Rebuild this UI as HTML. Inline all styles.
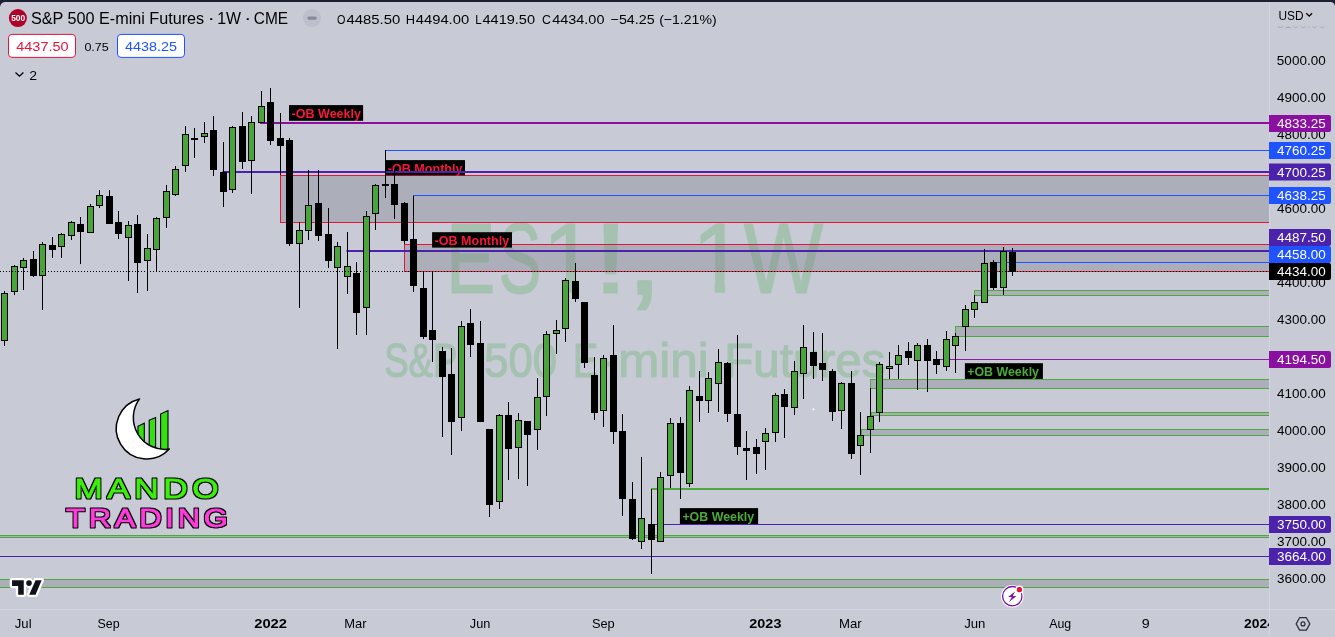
<!DOCTYPE html>
<html><head><meta charset="utf-8"><title>S&amp;P 500 E-mini Futures</title>
<style>html,body{margin:0;padding:0;background:#c8cad6;overflow:hidden}svg{display:block}</style>
</head><body>
<svg width="1335" height="637" viewBox="0 0 1335 637" font-family="'Liberation Sans', sans-serif">
<rect width="1335" height="637" fill="#1c2030"/>
<rect x="0" y="2" width="1335" height="647" rx="5" fill="#c8cad6"/>
<clipPath id="pane"><rect x="0" y="2" width="1269" height="607"/></clipPath>
<g clip-path="url(#pane)">
<g opacity="0.28" stroke="#4caf50" stroke-width="1.2" stroke-linejoin="round">
<text transform="translate(445.95,292.5) scale(0.7425,1)" font-size="99.4" fill="#4caf50">E</text><text transform="translate(498.59,292.5) scale(0.6448,1)" font-size="99.4" fill="#4caf50">S</text><clipPath id="c1a"><rect x="548.7" y="200" width="28.899999999999977" height="84.07"/><rect x="565.29" y="200" width="10.31" height="92.50"/></clipPath><g clip-path="url(#c1a)"><text transform="translate(542.66,292.5) scale(0.9455,1)" font-size="99.4" fill="#4caf50">1</text></g><text transform="translate(591.95,292.5) scale(1.3528,1)" font-size="99.4" fill="#4caf50">!</text><text transform="translate(625.24,293.64) scale(1.3838,1.2079)" font-size="99.4" fill="#4caf50">,</text><clipPath id="c1b"><rect x="698.1" y="200" width="29.0" height="84.07"/><rect x="714.76" y="200" width="10.34" height="92.50"/></clipPath><g clip-path="url(#c1b)"><text transform="translate(692.02,292.5) scale(0.9497,1)" font-size="99.4" fill="#4caf50"> 1</text></g><text transform="translate(743.83,292.5) scale(0.8480,1)" font-size="99.4" fill="#4caf50">W</text>
<text transform="translate(384.14,377) scale(0.7700,1)" font-size="47.5" fill="#4caf50">S&amp;P</text><text transform="translate(484.25,377) scale(0.9179,1)" font-size="47.5" fill="#4caf50"> 500</text><text transform="translate(572.91,377) scale(0.7924,1)" font-size="47.5" fill="#4caf50"> E</text><text transform="translate(599.32,377) scale(1.0348,1)" font-size="47.5" fill="#4caf50">-</text><text transform="translate(618.22,377) scale(1.0392,1)" font-size="47.5" fill="#4caf50">mini</text><text transform="translate(724.30,377) scale(1.0012,1)" font-size="47.5" fill="#4caf50"> Futures</text>
</g>
<rect x="280.5" y="175.5" width="1119.5" height="47.00" fill="rgba(120,123,134,0.35)" stroke="#e5143a" stroke-width="1"/>
<rect x="404.5" y="244.5" width="995.5" height="27.00" fill="rgba(120,123,134,0.35)" stroke="#e5143a" stroke-width="1"/>
<rect x="974.5" y="290.5" width="425.5" height="5.00" fill="rgba(120,123,134,0.35)" stroke="#4caa3c" stroke-width="1"/>
<rect x="955.5" y="326.5" width="444.5" height="10.00" fill="rgba(120,123,134,0.35)" stroke="#4caa3c" stroke-width="1"/>
<rect x="870.5" y="379.5" width="529.5" height="9.00" fill="rgba(120,123,134,0.35)" stroke="#4caa3c" stroke-width="1"/>
<rect x="871.5" y="412.5" width="528.5" height="3.00" fill="rgba(120,123,134,0.35)" stroke="#4caa3c" stroke-width="1"/>
<rect x="861.5" y="429.5" width="538.5" height="6.00" fill="rgba(120,123,134,0.35)" stroke="#4caa3c" stroke-width="1"/>
<rect x="-5" y="535.5" width="1405" height="2.00" fill="rgba(120,123,134,0.35)" stroke="#4caa3c" stroke-width="1"/>
<rect x="-5" y="579.5" width="1405" height="8.00" fill="rgba(120,123,134,0.35)" stroke="#4caa3c" stroke-width="1"/>
<rect x="289" y="105.1" width="74.1" height="15.7" fill="#000"/>
<text transform="translate(291.61,117.7) scale(0.9870,1)" font-size="12.7" font-weight="bold" fill="#f7183a">-OB Weekly</text>
<rect x="385.4" y="160.1" width="79.6" height="15.2" fill="#000"/>
<text transform="translate(387.81,172.6) scale(0.9904,1)" font-size="12.7" font-weight="bold" fill="#f7183a">-OB Monthly</text>
<rect x="432.1" y="232.2" width="79.9" height="15.4" fill="#000"/>
<text transform="translate(434.51,244.8) scale(0.9904,1)" font-size="12.7" font-weight="bold" fill="#f7183a">-OB Monthly</text>
<rect x="964.9" y="363.2" width="78" height="15.8" fill="#000"/>
<text transform="translate(967.18,375.7) scale(0.9773,1)" font-size="12.7" font-weight="bold" fill="#4caa3c">+OB Weekly</text>
<rect x="679.9" y="508.1" width="78.2" height="16" fill="#000"/>
<text transform="translate(682.38,520.7) scale(0.9773,1)" font-size="12.7" font-weight="bold" fill="#4caa3c">+OB Weekly</text>
<rect x="260" y="122" width="1140" height="2" fill="#8a10a0"/>
<rect x="385" y="150" width="1015" height="1" fill="#1f53ff"/>
<rect x="222.5" y="171" width="1177.5" height="2" fill="#4a22ac"/>
<rect x="413" y="195" width="987" height="1" fill="#1f53ff"/>
<rect x="346.5" y="250" width="1053.5" height="2" fill="#4a22ac"/>
<rect x="993" y="262" width="407" height="1" fill="#1f53ff"/>
<rect x="940" y="359" width="460" height="1" fill="#9416a8"/>
<rect x="651" y="488" width="749" height="2" fill="#4caa3c"/>
<rect x="655" y="524" width="745" height="1" fill="#4a22ac"/>
<rect x="0" y="556" width="1400" height="1" fill="#4a22ac"/>
<rect x="4" y="291" width="1" height="55" fill="#000"/>
<rect x="1" y="293" width="7" height="48" fill="#000"/>
<rect x="2" y="294" width="5" height="46" fill="#49a43c"/>
<rect x="14" y="265" width="1" height="30" fill="#000"/>
<rect x="11" y="266" width="7" height="26" fill="#000"/>
<rect x="12" y="267" width="5" height="24" fill="#49a43c"/>
<rect x="23" y="258" width="1" height="32" fill="#000"/>
<rect x="20" y="260" width="7" height="8" fill="#000"/>
<rect x="21" y="261" width="5" height="6" fill="#49a43c"/>
<rect x="33" y="251" width="1" height="26" fill="#000"/>
<rect x="30" y="259" width="7" height="17" fill="#000"/>
<rect x="42" y="242" width="1" height="68" fill="#000"/>
<rect x="39" y="244" width="7" height="32" fill="#000"/>
<rect x="40" y="245" width="5" height="30" fill="#49a43c"/>
<rect x="52" y="237" width="1" height="21" fill="#000"/>
<rect x="49" y="245" width="7" height="5" fill="#000"/>
<rect x="61" y="233" width="1" height="25" fill="#000"/>
<rect x="58" y="234" width="7" height="13" fill="#000"/>
<rect x="59" y="235" width="5" height="11" fill="#49a43c"/>
<rect x="71" y="221" width="1" height="19" fill="#000"/>
<rect x="68" y="222" width="7" height="14" fill="#000"/>
<rect x="69" y="223" width="5" height="12" fill="#49a43c"/>
<rect x="80" y="217" width="1" height="47" fill="#000"/>
<rect x="77" y="224" width="7" height="8" fill="#000"/>
<rect x="90" y="204" width="1" height="29" fill="#000"/>
<rect x="87" y="206" width="7" height="27" fill="#000"/>
<rect x="88" y="207" width="5" height="25" fill="#49a43c"/>
<rect x="99" y="190" width="1" height="18" fill="#000"/>
<rect x="96" y="195" width="7" height="11" fill="#000"/>
<rect x="97" y="196" width="5" height="9" fill="#49a43c"/>
<rect x="109" y="190" width="1" height="34" fill="#000"/>
<rect x="106" y="196" width="7" height="28" fill="#000"/>
<rect x="118" y="211" width="1" height="28" fill="#000"/>
<rect x="115" y="222" width="7" height="12" fill="#000"/>
<rect x="128" y="221" width="1" height="60" fill="#000"/>
<rect x="125" y="225" width="7" height="13" fill="#000"/>
<rect x="126" y="226" width="5" height="11" fill="#49a43c"/>
<rect x="137" y="215" width="1" height="78" fill="#000"/>
<rect x="134" y="224" width="7" height="39" fill="#000"/>
<rect x="147" y="234" width="1" height="57" fill="#000"/>
<rect x="144" y="248" width="7" height="13" fill="#000"/>
<rect x="145" y="249" width="5" height="11" fill="#49a43c"/>
<rect x="156" y="217" width="1" height="55" fill="#000"/>
<rect x="153" y="218" width="7" height="32" fill="#000"/>
<rect x="154" y="219" width="5" height="30" fill="#49a43c"/>
<rect x="166" y="185" width="1" height="43" fill="#000"/>
<rect x="163" y="191" width="7" height="27" fill="#000"/>
<rect x="164" y="192" width="5" height="25" fill="#49a43c"/>
<rect x="175" y="166" width="1" height="30" fill="#000"/>
<rect x="172" y="169" width="7" height="26" fill="#000"/>
<rect x="173" y="170" width="5" height="24" fill="#49a43c"/>
<rect x="185" y="126" width="1" height="46" fill="#000"/>
<rect x="182" y="134" width="7" height="32" fill="#000"/>
<rect x="183" y="135" width="5" height="30" fill="#49a43c"/>
<rect x="194" y="128" width="1" height="30" fill="#000"/>
<rect x="191" y="138" width="7" height="2" fill="#000"/>
<rect x="204" y="122" width="1" height="21" fill="#000"/>
<rect x="201" y="133" width="7" height="4" fill="#000"/>
<rect x="202" y="134" width="5" height="2" fill="#49a43c"/>
<rect x="213" y="116" width="1" height="60" fill="#000"/>
<rect x="210" y="130" width="7" height="40" fill="#000"/>
<rect x="223" y="142" width="1" height="65" fill="#000"/>
<rect x="220" y="172" width="7" height="20" fill="#000"/>
<rect x="232" y="126" width="1" height="67" fill="#000"/>
<rect x="229" y="127" width="7" height="63" fill="#000"/>
<rect x="230" y="128" width="5" height="61" fill="#49a43c"/>
<rect x="242" y="112" width="1" height="57" fill="#000"/>
<rect x="239" y="126" width="7" height="36" fill="#000"/>
<rect x="251" y="116" width="1" height="78" fill="#000"/>
<rect x="248" y="122" width="7" height="39" fill="#000"/>
<rect x="249" y="123" width="5" height="37" fill="#49a43c"/>
<rect x="261" y="91" width="1" height="32" fill="#000"/>
<rect x="258" y="106" width="7" height="17" fill="#000"/>
<rect x="259" y="107" width="5" height="15" fill="#49a43c"/>
<rect x="270" y="88" width="1" height="57" fill="#000"/>
<rect x="267" y="102" width="7" height="39" fill="#000"/>
<rect x="280" y="113" width="1" height="62" fill="#000"/>
<rect x="277" y="138" width="7" height="8" fill="#000"/>
<rect x="289" y="138" width="1" height="108" fill="#000"/>
<rect x="286" y="140" width="7" height="104" fill="#000"/>
<rect x="299" y="222" width="1" height="86" fill="#000"/>
<rect x="296" y="230" width="7" height="14" fill="#000"/>
<rect x="297" y="231" width="5" height="12" fill="#49a43c"/>
<rect x="308" y="170" width="1" height="70" fill="#000"/>
<rect x="305" y="205" width="7" height="26" fill="#000"/>
<rect x="306" y="206" width="5" height="24" fill="#49a43c"/>
<rect x="318" y="170" width="1" height="71" fill="#000"/>
<rect x="315" y="203" width="7" height="33" fill="#000"/>
<rect x="328" y="208" width="1" height="60" fill="#000"/>
<rect x="325" y="234" width="7" height="27" fill="#000"/>
<rect x="337" y="242" width="1" height="107" fill="#000"/>
<rect x="334" y="246" width="7" height="22" fill="#000"/>
<rect x="335" y="247" width="5" height="20" fill="#49a43c"/>
<rect x="347" y="232" width="1" height="62" fill="#000"/>
<rect x="344" y="266" width="7" height="11" fill="#000"/>
<rect x="345" y="267" width="5" height="9" fill="#49a43c"/>
<rect x="356" y="262" width="1" height="73" fill="#000"/>
<rect x="353" y="273" width="7" height="40" fill="#000"/>
<rect x="366" y="211" width="1" height="124" fill="#000"/>
<rect x="363" y="216" width="7" height="92" fill="#000"/>
<rect x="364" y="217" width="5" height="90" fill="#49a43c"/>
<rect x="375" y="184" width="1" height="46" fill="#000"/>
<rect x="372" y="185" width="7" height="29" fill="#000"/>
<rect x="373" y="186" width="5" height="27" fill="#49a43c"/>
<rect x="385" y="150" width="1" height="48" fill="#000"/>
<rect x="382" y="184" width="7" height="2" fill="#000"/>
<rect x="394" y="169" width="1" height="50" fill="#000"/>
<rect x="391" y="184" width="7" height="21" fill="#000"/>
<rect x="404" y="202" width="1" height="42" fill="#000"/>
<rect x="401" y="203" width="7" height="38" fill="#000"/>
<rect x="413" y="196" width="1" height="96" fill="#000"/>
<rect x="410" y="239" width="7" height="47" fill="#000"/>
<rect x="423" y="271" width="1" height="68" fill="#000"/>
<rect x="420" y="288" width="7" height="49" fill="#000"/>
<rect x="432" y="271" width="1" height="91" fill="#000"/>
<rect x="429" y="330" width="7" height="10" fill="#000"/>
<rect x="442" y="347" width="1" height="90" fill="#000"/>
<rect x="439" y="351" width="7" height="26" fill="#000"/>
<rect x="451" y="348" width="1" height="107" fill="#000"/>
<rect x="448" y="374" width="7" height="48" fill="#000"/>
<rect x="461" y="321" width="1" height="110" fill="#000"/>
<rect x="458" y="326" width="7" height="92" fill="#000"/>
<rect x="459" y="327" width="5" height="90" fill="#49a43c"/>
<rect x="470" y="309" width="1" height="48" fill="#000"/>
<rect x="467" y="323" width="7" height="22" fill="#000"/>
<rect x="480" y="321" width="1" height="101" fill="#000"/>
<rect x="477" y="343" width="7" height="79" fill="#000"/>
<rect x="489" y="429" width="1" height="88" fill="#000"/>
<rect x="486" y="429" width="7" height="76" fill="#000"/>
<rect x="499" y="414" width="1" height="95" fill="#000"/>
<rect x="496" y="415" width="7" height="87" fill="#000"/>
<rect x="497" y="416" width="5" height="85" fill="#49a43c"/>
<rect x="508" y="402" width="1" height="78" fill="#000"/>
<rect x="505" y="415" width="7" height="34" fill="#000"/>
<rect x="518" y="413" width="1" height="66" fill="#000"/>
<rect x="515" y="420" width="7" height="28" fill="#000"/>
<rect x="516" y="421" width="5" height="26" fill="#49a43c"/>
<rect x="527" y="421" width="1" height="65" fill="#000"/>
<rect x="524" y="421" width="7" height="14" fill="#000"/>
<rect x="537" y="378" width="1" height="72" fill="#000"/>
<rect x="534" y="397" width="7" height="33" fill="#000"/>
<rect x="535" y="398" width="5" height="31" fill="#49a43c"/>
<rect x="546" y="331" width="1" height="85" fill="#000"/>
<rect x="543" y="334" width="7" height="63" fill="#000"/>
<rect x="544" y="335" width="5" height="61" fill="#49a43c"/>
<rect x="556" y="320" width="1" height="34" fill="#000"/>
<rect x="553" y="330" width="7" height="4" fill="#000"/>
<rect x="554" y="331" width="5" height="2" fill="#49a43c"/>
<rect x="565" y="278" width="1" height="64" fill="#000"/>
<rect x="562" y="280" width="7" height="49" fill="#000"/>
<rect x="563" y="281" width="5" height="47" fill="#49a43c"/>
<rect x="575" y="263" width="1" height="39" fill="#000"/>
<rect x="572" y="281" width="7" height="18" fill="#000"/>
<rect x="584" y="302" width="1" height="66" fill="#000"/>
<rect x="581" y="302" width="7" height="61" fill="#000"/>
<rect x="594" y="357" width="1" height="63" fill="#000"/>
<rect x="591" y="375" width="7" height="38" fill="#000"/>
<rect x="603" y="355" width="1" height="72" fill="#000"/>
<rect x="600" y="358" width="7" height="53" fill="#000"/>
<rect x="601" y="359" width="5" height="51" fill="#49a43c"/>
<rect x="613" y="325" width="1" height="119" fill="#000"/>
<rect x="610" y="355" width="7" height="77" fill="#000"/>
<rect x="622" y="414" width="1" height="102" fill="#000"/>
<rect x="619" y="431" width="7" height="68" fill="#000"/>
<rect x="632" y="482" width="1" height="58" fill="#000"/>
<rect x="629" y="499" width="7" height="40" fill="#000"/>
<rect x="641" y="457" width="1" height="92" fill="#000"/>
<rect x="638" y="518" width="7" height="24" fill="#000"/>
<rect x="639" y="519" width="5" height="22" fill="#49a43c"/>
<rect x="651" y="489" width="1" height="85" fill="#000"/>
<rect x="648" y="524" width="7" height="16" fill="#000"/>
<rect x="660" y="472" width="1" height="70" fill="#000"/>
<rect x="657" y="477" width="7" height="65" fill="#000"/>
<rect x="658" y="478" width="5" height="63" fill="#49a43c"/>
<rect x="670" y="418" width="1" height="70" fill="#000"/>
<rect x="667" y="423" width="7" height="53" fill="#000"/>
<rect x="668" y="424" width="5" height="51" fill="#49a43c"/>
<rect x="680" y="417" width="1" height="82" fill="#000"/>
<rect x="677" y="423" width="7" height="50" fill="#000"/>
<rect x="689" y="386" width="1" height="101" fill="#000"/>
<rect x="686" y="390" width="7" height="94" fill="#000"/>
<rect x="687" y="391" width="5" height="92" fill="#49a43c"/>
<rect x="699" y="371" width="1" height="51" fill="#000"/>
<rect x="696" y="396" width="7" height="5" fill="#000"/>
<rect x="708" y="372" width="1" height="41" fill="#000"/>
<rect x="705" y="378" width="7" height="23" fill="#000"/>
<rect x="706" y="379" width="5" height="21" fill="#49a43c"/>
<rect x="718" y="349" width="1" height="63" fill="#000"/>
<rect x="715" y="362" width="7" height="22" fill="#000"/>
<rect x="716" y="363" width="5" height="20" fill="#49a43c"/>
<rect x="727" y="362" width="1" height="60" fill="#000"/>
<rect x="724" y="363" width="7" height="51" fill="#000"/>
<rect x="737" y="335" width="1" height="120" fill="#000"/>
<rect x="734" y="414" width="7" height="33" fill="#000"/>
<rect x="746" y="431" width="1" height="49" fill="#000"/>
<rect x="743" y="448" width="7" height="3" fill="#000"/>
<rect x="756" y="439" width="1" height="35" fill="#000"/>
<rect x="753" y="447" width="7" height="7" fill="#000"/>
<rect x="765" y="428" width="1" height="42" fill="#000"/>
<rect x="762" y="433" width="7" height="9" fill="#000"/>
<rect x="763" y="434" width="5" height="7" fill="#49a43c"/>
<rect x="775" y="393" width="1" height="49" fill="#000"/>
<rect x="772" y="395" width="7" height="38" fill="#000"/>
<rect x="773" y="396" width="5" height="36" fill="#49a43c"/>
<rect x="784" y="389" width="1" height="49" fill="#000"/>
<rect x="781" y="394" width="7" height="13" fill="#000"/>
<rect x="794" y="361" width="1" height="54" fill="#000"/>
<rect x="791" y="371" width="7" height="37" fill="#000"/>
<rect x="792" y="372" width="5" height="35" fill="#49a43c"/>
<rect x="803" y="325" width="1" height="74" fill="#000"/>
<rect x="800" y="347" width="7" height="27" fill="#000"/>
<rect x="801" y="348" width="5" height="25" fill="#49a43c"/>
<rect x="813" y="332" width="1" height="47" fill="#000"/>
<rect x="810" y="352" width="7" height="14" fill="#000"/>
<rect x="822" y="333" width="1" height="48" fill="#000"/>
<rect x="819" y="363" width="7" height="7" fill="#000"/>
<rect x="832" y="369" width="1" height="52" fill="#000"/>
<rect x="829" y="371" width="7" height="41" fill="#000"/>
<rect x="841" y="382" width="1" height="47" fill="#000"/>
<rect x="838" y="383" width="7" height="28" fill="#000"/>
<rect x="839" y="384" width="5" height="26" fill="#49a43c"/>
<rect x="851" y="371" width="1" height="88" fill="#000"/>
<rect x="848" y="383" width="7" height="71" fill="#000"/>
<rect x="860" y="412" width="1" height="63" fill="#000"/>
<rect x="857" y="435" width="7" height="11" fill="#000"/>
<rect x="858" y="436" width="5" height="9" fill="#49a43c"/>
<rect x="870" y="388" width="1" height="65" fill="#000"/>
<rect x="867" y="416" width="7" height="14" fill="#000"/>
<rect x="868" y="417" width="5" height="12" fill="#49a43c"/>
<rect x="879" y="362" width="1" height="60" fill="#000"/>
<rect x="876" y="364" width="7" height="49" fill="#000"/>
<rect x="877" y="365" width="5" height="47" fill="#49a43c"/>
<rect x="889" y="352" width="1" height="27" fill="#000"/>
<rect x="886" y="366" width="7" height="3" fill="#000"/>
<rect x="887" y="367" width="5" height="1" fill="#49a43c"/>
<rect x="898" y="345" width="1" height="34" fill="#000"/>
<rect x="895" y="355" width="7" height="10" fill="#000"/>
<rect x="896" y="356" width="5" height="8" fill="#49a43c"/>
<rect x="908" y="342" width="1" height="23" fill="#000"/>
<rect x="905" y="351" width="7" height="7" fill="#000"/>
<rect x="917" y="343" width="1" height="47" fill="#000"/>
<rect x="914" y="345" width="7" height="16" fill="#000"/>
<rect x="915" y="346" width="5" height="14" fill="#49a43c"/>
<rect x="927" y="339" width="1" height="53" fill="#000"/>
<rect x="924" y="345" width="7" height="16" fill="#000"/>
<rect x="936" y="351" width="1" height="23" fill="#000"/>
<rect x="933" y="359" width="7" height="6" fill="#000"/>
<rect x="946" y="331" width="1" height="40" fill="#000"/>
<rect x="943" y="339" width="7" height="28" fill="#000"/>
<rect x="944" y="340" width="5" height="26" fill="#49a43c"/>
<rect x="955" y="333" width="1" height="40" fill="#000"/>
<rect x="952" y="336" width="7" height="10" fill="#000"/>
<rect x="953" y="337" width="5" height="8" fill="#49a43c"/>
<rect x="965" y="305" width="1" height="46" fill="#000"/>
<rect x="962" y="309" width="7" height="18" fill="#000"/>
<rect x="963" y="310" width="5" height="16" fill="#49a43c"/>
<rect x="974" y="295" width="1" height="23" fill="#000"/>
<rect x="971" y="302" width="7" height="8" fill="#000"/>
<rect x="972" y="303" width="5" height="6" fill="#49a43c"/>
<rect x="984" y="249" width="1" height="54" fill="#000"/>
<rect x="981" y="263" width="7" height="40" fill="#000"/>
<rect x="982" y="264" width="5" height="38" fill="#49a43c"/>
<rect x="993" y="260" width="1" height="30" fill="#000"/>
<rect x="990" y="262" width="7" height="26" fill="#000"/>
<rect x="1003" y="247" width="1" height="48" fill="#000"/>
<rect x="1000" y="251" width="7" height="37" fill="#000"/>
<rect x="1001" y="252" width="5" height="35" fill="#49a43c"/>
<rect x="1012" y="248" width="1" height="28" fill="#000"/>
<rect x="1009" y="252" width="7" height="20" fill="#000"/>
<path d="M813.4,407.6 L813.9,408.8 L815.1,409.3 L813.9,409.8 L813.4,411 L812.9,409.8 L811.7,409.3 L812.9,408.8 Z" fill="#fff" opacity="0.9"/>
<line x1="0" y1="271.5" x2="1269" y2="271.5" stroke="#000" stroke-width="1" stroke-dasharray="1 2"/>
</g>
<g>
<path d="M138,426.2 L144.3,423.2 V445 H138 Z" fill="#33e012" stroke="#000" stroke-width="1.1"/>
<path d="M149.2,420.3 L155.6,417.5 V450 H149.2 Z" fill="#33e012" stroke="#000" stroke-width="1.1"/>
<path d="M160.6,414 L168,410.6 V449.5 H160.6 Z" fill="#33e012" stroke="#000" stroke-width="1.1"/>
<path d="M139.5,398.9 A30.5,30.5 0 1 0 169.3,449.1 A31.7,31.7 0 0 1 139.5,398.9 Z" fill="#fff" stroke="#000" stroke-width="1.5" stroke-linejoin="round"/>
</g>
<filter id="ol" x="-5%" y="-30%" width="110%" height="160%" color-interpolation-filters="sRGB"><feMorphology in="SourceAlpha" operator="dilate" radius="1" result="d"/><feFlood flood-color="#000"/><feComposite operator="in" in2="d"/><feMerge><feMergeNode/><feMergeNode in="SourceGraphic"/></feMerge></filter>
<text transform="translate(74.52,497.5) scale(1.2000,1)" font-size="28.2" letter-spacing="3.799" stroke-linejoin="round" filter="url(#ol)" fill="#3df00d" stroke="#3df00d" stroke-width="0.8">MANDO</text>
<text transform="translate(66.10,526.8) scale(1.2000,1)" font-size="25.8" letter-spacing="3.123" stroke-linejoin="round" filter="url(#ol)" fill="#ff3cdc" stroke="#ff3cdc" stroke-width="0.8">TRADING</text>
<g transform="translate(12.06,580.2)">
<path d="M0,0 H11.7 V14.6 H6.1 V5.7 H0 Z M14.15,2.9 a2.8,2.8 0 1 0 5.6,0 a2.8,2.8 0 1 0 -5.6,0 Z M23.5,0 H29.6 L23.5,14.6 H17.1 Z" fill="#fff" stroke="#fff" stroke-width="4.6" stroke-linejoin="round"/>
<path d="M0,0 H11.7 V14.6 H6.1 V5.7 H0 Z M14.15,2.9 a2.8,2.8 0 1 0 5.6,0 a2.8,2.8 0 1 0 -5.6,0 Z M23.5,0 H29.6 L23.5,14.6 H17.1 Z" fill="#0f121b"/>
</g>
<g>
<circle cx="1012.3" cy="596.2" r="11.3" fill="#fff"/>
<circle cx="1012.3" cy="596.2" r="9.7" fill="none" stroke="#7a12a6" stroke-width="1.3"/>
<path d="M1015.1,591.4 L1008.1,596.9 L1011.9,597 L1009,601.9 L1016.5,596.1 L1012.8,596 Z" fill="#7a12a6"/>
<circle cx="1019.4" cy="589.6" r="4.1" fill="#fff"/>
<rect x="1016.8" y="587" width="5.2" height="5.2" rx="2" fill="#e5143a"/>
</g>
<rect x="1269" y="2" width="1" height="637" fill="#d2d4df"/>
<rect x="0" y="609" width="1335" height="1" fill="#d2d4df"/>
<clipPath id="pax"><rect x="1270" y="2" width="70" height="607"/></clipPath>
<g clip-path="url(#pax)">
<text transform="translate(1276.86,28.2) scale(1.0816,1)" font-size="12.5" fill="#000" opacity="0.5">5100.00</text>
<text transform="translate(1276.86,65.2) scale(1.0816,1)" font-size="12.5" fill="#000">5000.00</text>
<text transform="translate(1277.09,102.2) scale(1.0764,1)" font-size="12.5" fill="#000">4900.00</text>
<text transform="translate(1277.09,139.2) scale(1.0764,1)" font-size="12.5" fill="#000">4800.00</text>
<text transform="translate(1277.09,176.2) scale(1.0764,1)" font-size="12.5" fill="#000">4700.00</text>
<text transform="translate(1277.09,213.2) scale(1.0764,1)" font-size="12.5" fill="#000">4600.00</text>
<text transform="translate(1277.09,250.2) scale(1.0764,1)" font-size="12.5" fill="#000">4500.00</text>
<text transform="translate(1277.09,287.2) scale(1.0764,1)" font-size="12.5" fill="#000">4400.00</text>
<text transform="translate(1277.09,324.2) scale(1.0764,1)" font-size="12.5" fill="#000">4300.00</text>
<text transform="translate(1277.09,361.2) scale(1.0764,1)" font-size="12.5" fill="#000">4200.00</text>
<text transform="translate(1277.09,398.2) scale(1.0764,1)" font-size="12.5" fill="#000">4100.00</text>
<text transform="translate(1277.09,435.2) scale(1.0764,1)" font-size="12.5" fill="#000">4000.00</text>
<text transform="translate(1276.89,472.2) scale(1.0810,1)" font-size="12.5" fill="#000">3900.00</text>
<text transform="translate(1276.89,509.2) scale(1.0810,1)" font-size="12.5" fill="#000">3800.00</text>
<text transform="translate(1276.89,546.2) scale(1.0810,1)" font-size="12.5" fill="#000">3700.00</text>
<text transform="translate(1276.89,583.2) scale(1.0810,1)" font-size="12.5" fill="#000">3600.00</text>
</g>
<linearGradient id="fade" x1="0" y1="0" x2="0" y2="1"><stop offset="0" stop-color="#c8cad6" stop-opacity="1"/><stop offset="1" stop-color="#c8cad6" stop-opacity="0"/></linearGradient>
<rect x="1270" y="2" width="66" height="24.3" fill="#c8cad6"/>
<rect x="1270" y="26.3" width="66" height="4" fill="url(#fade)"/>
<path d="M1269,114.9 H1329 a2,2 0 0 1 2,2 V129.9 a2,2 0 0 1 -2,2 H1269 Z" fill="#8a10a0"/>
<text transform="translate(1277.09,127.8) scale(1.0772,1)" font-size="12.5" fill="#fff">4833.25</text>
<path d="M1269,141.9 H1329 a2,2 0 0 1 2,2 V156.9 a2,2 0 0 1 -2,2 H1269 Z" fill="#1f53ff"/>
<text transform="translate(1277.09,154.8) scale(1.0772,1)" font-size="12.5" fill="#fff">4760.25</text>
<path d="M1269,163.6 H1329 a2,2 0 0 1 2,2 V178.6 a2,2 0 0 1 -2,2 H1269 Z" fill="#4a22ac"/>
<text transform="translate(1277.09,176.5) scale(1.0772,1)" font-size="12.5" fill="#fff">4700.25</text>
<path d="M1269,186.9 H1329 a2,2 0 0 1 2,2 V201.9 a2,2 0 0 1 -2,2 H1269 Z" fill="#1f53ff"/>
<text transform="translate(1277.09,199.8) scale(1.0772,1)" font-size="12.5" fill="#fff">4638.25</text>
<path d="M1269,229.0 H1329 a2,2 0 0 1 2,2 V244.0 a2,2 0 0 1 -2,2 H1269 Z" fill="#4a22ac"/>
<text transform="translate(1277.09,241.9) scale(1.0764,1)" font-size="12.5" fill="#fff">4487.50</text>
<path d="M1269,246.0 H1329 a2,2 0 0 1 2,2 V261.0 a2,2 0 0 1 -2,2 H1269 Z" fill="#1f53ff"/>
<text transform="translate(1277.09,258.9) scale(1.0764,1)" font-size="12.5" fill="#fff">4458.00</text>
<path d="M1269,263.1 H1329 a2,2 0 0 1 2,2 V278.1 a2,2 0 0 1 -2,2 H1269 Z" fill="#000"/>
<text transform="translate(1277.09,276.0) scale(1.0764,1)" font-size="12.5" fill="#fff">4434.00</text>
<path d="M1269,351.0 H1329 a2,2 0 0 1 2,2 V366.0 a2,2 0 0 1 -2,2 H1269 Z" fill="#8a10a0"/>
<text transform="translate(1277.09,363.9) scale(1.0764,1)" font-size="12.5" fill="#fff">4194.50</text>
<path d="M1269,516.0 H1329 a2,2 0 0 1 2,2 V531.0 a2,2 0 0 1 -2,2 H1269 Z" fill="#4a22ac"/>
<text transform="translate(1276.89,528.9) scale(1.0810,1)" font-size="12.5" fill="#fff">3750.00</text>
<path d="M1269,548.1 H1329 a2,2 0 0 1 2,2 V563.1 a2,2 0 0 1 -2,2 H1269 Z" fill="#4a22ac"/>
<text transform="translate(1276.89,561.0) scale(1.0810,1)" font-size="12.5" fill="#fff">3664.00</text>
<text transform="translate(1278.48,19.6) scale(0.9430,1)" font-size="12.6" fill="#000">USD</text>
<path d="M1306.3,13.3 L1309.2,16.1 L1312.1,13.3" fill="none" stroke="#000" stroke-width="1.3"/>
<text transform="translate(14.79,628) scale(1.0420,1)" font-size="12.6" fill="#000">Jul</text>
<text transform="translate(97.54,628) scale(0.9851,1)" font-size="12.6" fill="#000">Sep</text>
<text transform="translate(344.24,628) scale(1.0266,1)" font-size="12.6" fill="#000">Mar</text>
<text transform="translate(469.80,628) scale(1.0104,1)" font-size="12.6" fill="#000">Jun</text>
<text transform="translate(591.92,628) scale(1.0179,1)" font-size="12.6" fill="#000">Sep</text>
<text transform="translate(838.92,628) scale(1.0461,1)" font-size="12.6" fill="#000">Mar</text>
<text transform="translate(964.19,628) scale(1.0466,1)" font-size="12.6" fill="#000">Jun</text>
<text transform="translate(1049.18,628) scale(0.9823,1)" font-size="12.6" fill="#000">Aug</text>
<text transform="translate(1141.63,628) scale(1.1340,1)" font-size="12.6" fill="#000">9</text>
<text transform="translate(254.19,628) scale(1.1739,1)" font-size="12.6" font-weight="bold" fill="#000">2022</text>
<text transform="translate(749.30,628) scale(1.1460,1)" font-size="12.6" font-weight="bold" fill="#000">2023</text>
<clipPath id="tax"><rect x="0" y="610" width="1269" height="30"/></clipPath>
<g clip-path="url(#tax)"><text transform="translate(1244.12,628) scale(1.1096,1)" font-size="12.5" font-weight="bold" fill="#000">2024</text></g>
<path d="M1296.2,623.9 L1299.6,617.7 H1306.4 L1309.8,623.9 L1306.4,630.1 H1299.6 Z" fill="none" stroke="#2a2e39" stroke-width="1.2" stroke-linejoin="round"/>
<circle cx="1303" cy="623.9" r="2" fill="none" stroke="#2a2e39" stroke-width="1.2"/>
<circle cx="17.9" cy="18.1" r="9" fill="#b00028"/>
<text transform="translate(11.14,21.1) scale(1.0111,1)" font-size="8.3" font-weight="bold" fill="#fff">500</text>
<text transform="translate(30.96,24.1) scale(0.9416,1)" font-size="17.2" fill="#000">S&amp;P 500 E-mini Futures</text><text transform="translate(207.81,24.1) scale(1.2212,1)" font-size="17.2" fill="#000"> ·</text><text transform="translate(217.19,24.1) scale(0.9251,1)" font-size="17.2" fill="#000"> 1W</text><text transform="translate(244.31,24.1) scale(1.2212,1)" font-size="17.2" fill="#000"> ·</text><text transform="translate(253.82,24.1) scale(0.8987,1)" font-size="17.2" fill="#000"> CME</text>
<circle cx="312" cy="18.1" r="9" fill="#bdbfcb"/>
<rect x="307.3" y="16.4" width="9.5" height="3.4" rx="1.7" fill="#868a9a"/>
<text transform="translate(337.09,24) scale(0.8275,1)" font-size="13.1" fill="#000">O</text><text transform="translate(346.46,24) scale(1.1366,1)" font-size="13.1" fill="#000">4485.50</text><text transform="translate(405.84,24) scale(0.9839,1)" font-size="13.1" fill="#000"> H</text><text transform="translate(415.76,24) scale(1.1280,1)" font-size="13.1" fill="#000">4494.00</text><text transform="translate(475.25,24) scale(0.8830,1)" font-size="13.1" fill="#000"> L</text><text transform="translate(482.47,24) scale(1.1109,1)" font-size="13.1" fill="#000">4419.50</text><text transform="translate(542.07,24) scale(0.9402,1)" font-size="13.1" fill="#000"> C</text><text transform="translate(552.17,24) scale(1.1044,1)" font-size="13.1" fill="#000">4434.00</text><text transform="translate(610.60,24) scale(1.0883,1)" font-size="13.1" fill="#000"> −54.25</text><text transform="translate(659.13,24) scale(1.0753,1)" font-size="13.1" fill="#000"> (−1.21%)</text>
<rect x="8.5" y="34.4" width="67" height="23" rx="3.5" fill="#fff" stroke="#e5143a" stroke-width="1"/>
<text transform="translate(16.27,50.6) scale(1.1151,1)" font-size="13" fill="#e5143a">4437.50</text>
<text transform="translate(84.41,51.2) scale(1.0586,1)" font-size="11.8" fill="#000">0.75</text>
<rect x="117.5" y="34.4" width="67" height="23" rx="3.5" fill="#fff" stroke="#1f53ff" stroke-width="1"/>
<text transform="translate(125.07,50.6) scale(1.1073,1)" font-size="13" fill="#1f53ff">4438.25</text>
<path d="M15.5,72.5 L19.45,76.2 L23.4,72.5" fill="none" stroke="#000" stroke-width="1.3"/>
<text transform="translate(29.19,80) scale(1.0806,1)" font-size="13" fill="#000">2</text>
<path d="M0,0 H1335 V6.5 A4.5,4.5 0 0 0 1330.5,2 H4.5 A4.5,4.5 0 0 0 0,6.5 Z" fill="#1c2030"/>
</svg>
</body></html>
